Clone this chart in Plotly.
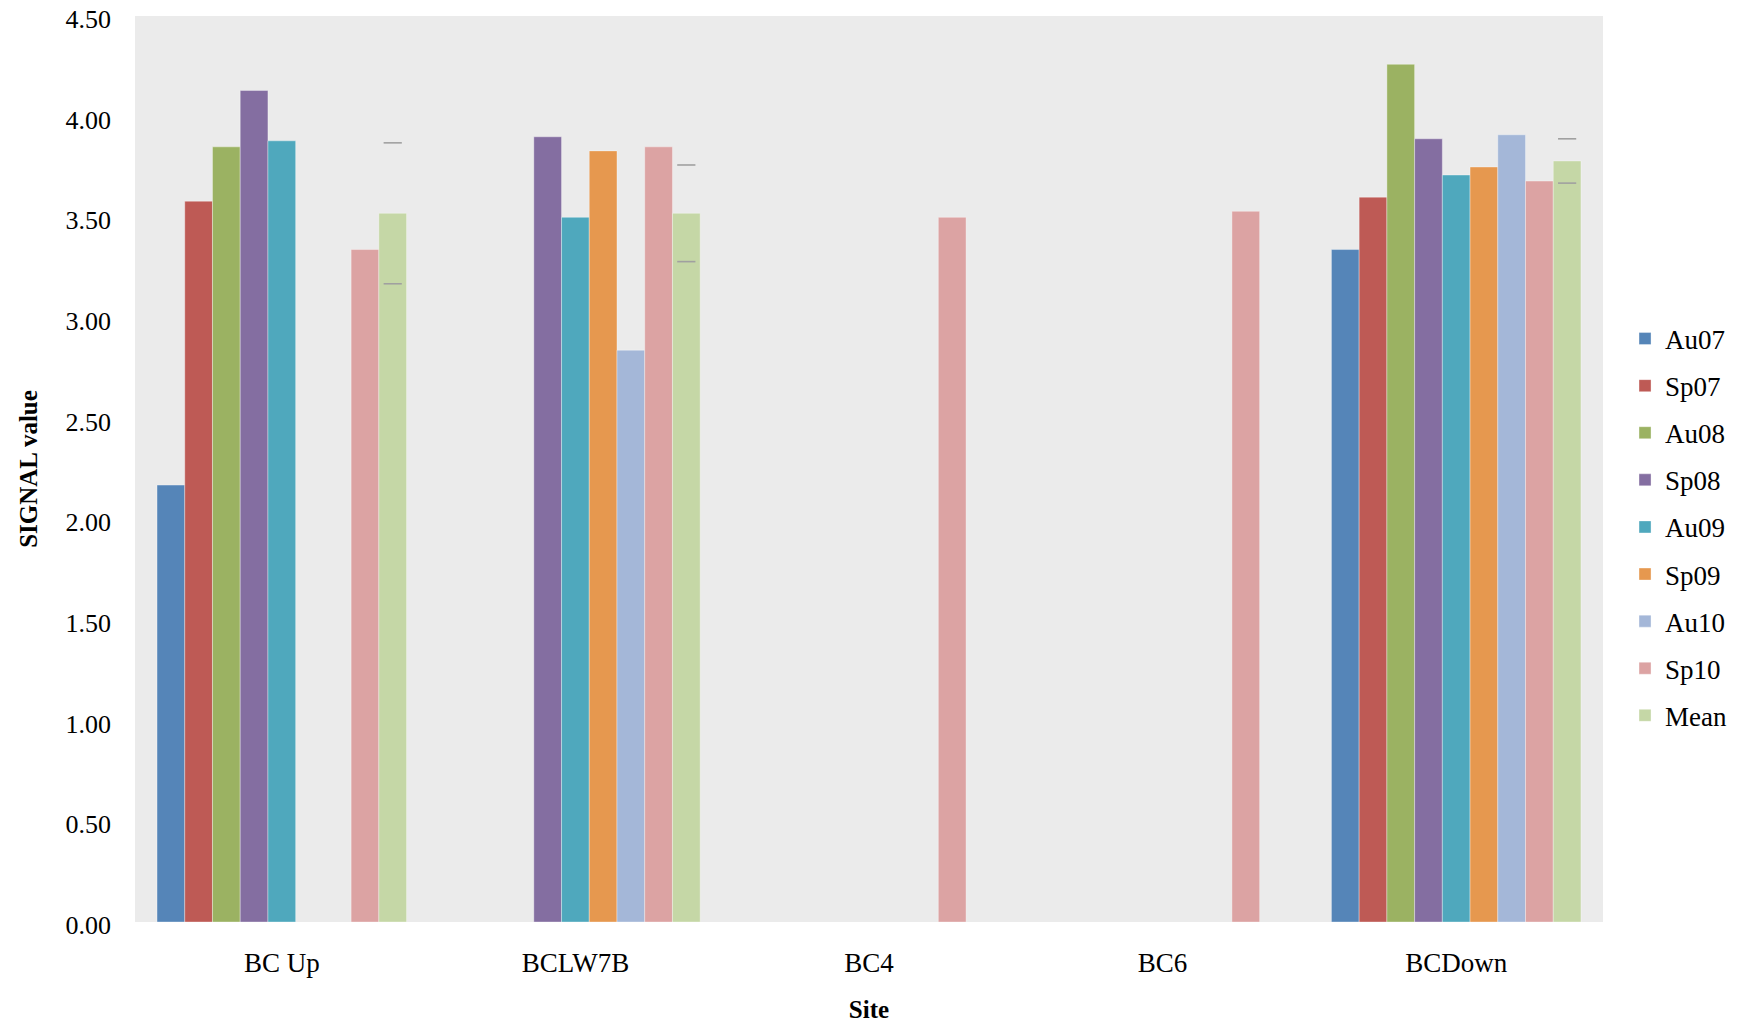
import plotly.graph_objects as go

sites = ["BC Up", "BCLW7B", "BC4", "BC6", "BCDown"]
series = ["Au07", "Sp07", "Au08", "Sp08", "Au09", "Sp09", "Au10", "Sp10", "Mean"]
colors = ["#5585B8", "#BE5A55", "#9BB262", "#846EA1", "#4FA8BD",
          "#E6984F", "#A4B7D8", "#DCA3A3", "#C5D7A6"]

Au07 = [2.17, None, None, None, 3.34]
Sp07 = [3.58, None, None, None, 3.60]
Au08 = [3.85, None, None, None, 4.26]
Sp08 = [4.13, 3.90, None, None, 3.89]
Au09 = [3.88, 3.50, None, None, 3.71]
Sp09 = [None, 3.83, None, None, 3.75]
Au10 = [None, 2.84, None, None, 3.91]
Sp10 = [3.34, 3.85, 3.50, 3.53, 3.68]
Mean = [3.52, 3.52, None, None, 3.78]
mean_upper = [3.87, 3.76, None, None, 3.89]
mean_lower = [3.17, 3.28, None, None, 3.67]

values = [Au07, Sp07, Au08, Sp08, Au09, Sp09, Au10, Sp10, Mean]

font = "Liberation Serif"
fig = go.Figure()
for name, vals, col in zip(series, values, colors):
    fig.add_trace(go.Bar(
        x=sites, y=vals, name=name, marker_color=col,
        marker_line=dict(color="rgba(255,255,255,0.35)", width=1),
        offsetgroup=name, alignmentgroup="g", legendgroup=name,
    ))

for bound in (mean_upper, mean_lower):
    fig.add_trace(go.Scatter(
        x=sites, y=bound, mode="markers", showlegend=False,
        offsetgroup="Mean", alignmentgroup="g",
        marker=dict(symbol="line-ew", size=13,
                    line=dict(color="#A0A0A0", width=1.6)),
        hoverinfo="y",
    ))

# the page body has an 8px margin; size the figure so no scrollbars appear
fig.update_layout(
    width=1722, height=1015,
    barmode="group", bargap=0.15, bargroupgap=0,
    scattermode="group", scattergap=0.15,
    plot_bgcolor="#EBEBEB", paper_bgcolor="white",
    margin=dict(l=127, r=127, t=8, b=101, autoexpand=False),
    font=dict(family=font, size=27, color="black"),
    legend=dict(x=1.015, y=0.436, yanchor="middle", xanchor="left",
                tracegroupgap=9, traceorder="grouped",
                font=dict(size=27), itemwidth=30),
    showlegend=True,
)
fig.update_xaxes(
    title=dict(text="<b>Site</b>", font=dict(size=25), standoff=33),
    showgrid=False, ticks="", tickfont=dict(size=27), ticklabelstandoff=22,
    automargin=True,
)
fig.update_yaxes(
    title=dict(text="<b>SIGNAL value</b>", font=dict(size=25), standoff=20),
    range=[0, 4.5], dtick=0.5, tickformat=".2f", showgrid=False,
    zeroline=False, tickfont=dict(size=26), ticklabelstandoff=23,
    ticklabelshift=3, ticklabeloverflow="allow", automargin=False,
)
fig.write_html("out.html")
